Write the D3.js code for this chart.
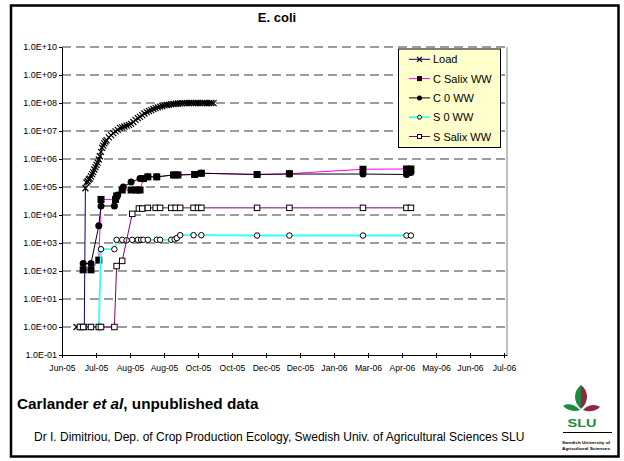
<!DOCTYPE html>
<html><head><meta charset="utf-8">
<script src="https://cdn.jsdelivr.net/npm/d3@7"></script>
<style>body{margin:0;background:#fff}svg{display:block;font-family:"Liberation Sans",Arial,sans-serif}</style>
</head><body><svg id="c" width="624" height="461"></svg>
<script>
// day of study: 0 = 1 Jun 2005
const seriesNames = ["Load", "C Salix WW", "C 0 WW", "S 0 WW", "S Salix WW"];

const loadDays = [13,20,21,22,23,24,25,26,27,28,29,30,31,32,33,34,35,36,37,38,39,40,42,44,46,48,50,52,54,56,58,60,62,64,66,68,70,72,74,76,78,80,82,84,86,88,90,92,94,96,98,100,102,104,106,108,110,112,114,116,118,120,122,124,126,128,130,132,134,136];
const loadValues = [1,1,9.0e4,1.45e5,1.6e5,1.85e5,2.0e5,2.4e5,2.9e5,3.4e5,4.2e5,5.1e5,6.2e5,7.4e5,9.6e5,1.25e6,1.8e6,2.5e6,3.0e6,3.6e6,4.2e6,4.7e6,5.9e6,7.1e6,8.4e6,9.7e6,1.1e7,1.3e7,1.35e7,1.45e7,1.55e7,1.65e7,1.8e7,2.1e7,2.5e7,2.9e7,3.2e7,3.7e7,4.2e7,4.7e7,5.2e7,5.6e7,6.1e7,6.6e7,7.0e7,7.4e7,7.8e7,8.2e7,8.5e7,8.7e7,9.0e7,9.2e7,9.4e7,9.6e7,9.7e7,9.8e7,9.9e7,9.9e7,1.0e8,1.0e8,9.9e7,1.0e8,1.0e8,9.9e7,1.0e8,1.0e8,9.8e7,9.9e7,1.0e8,9.9e7];

const cSalixDays = [19,26,33,35,48,49,54,62,67,70,73,77,85,100,104,119,125,175,204,270,309,313];
const cSalixValues = [110,110,245,3.6e4,3.6e4,4.8e4,7.8e4,7.8e4,7.8e4,7.8e4,2.0e5,2.3e5,2.3e5,2.7e5,2.7e5,2.8e5,3.1e5,2.8e5,3.0e5,4.3e5,4.4e5,4.4e5];

const c0Days = [19,26,33,35,47,48,50,55,62,70,77,85,100,104,119,125,175,204,270,309,313];
const c0Values = [185,185,4.1e3,2.1e4,2.1e4,3.5e4,5.2e4,1.0e5,1.5e5,2.0e5,2.3e5,2.3e5,2.7e5,2.7e5,2.8e5,3.1e5,2.8e5,2.9e5,2.9e5,2.8e5,3.3e5];

const s0Days = [16,19,26,33,35,47,49,54,58,63,68,71,73,77,85,88,98,101,103,106,118,125,175,204,270,309,313];
const s0Values = [1,1,1,1,600,600,1300,1300,1250,1300,1300,1300,1300,1300,1300,1300,1300,1350,1500,1900,1900,1900,1850,1850,1850,1850,1850];

const sSalixDays = [16,19,26,33,35,47,49,54,63,69,72,77,84,88,98,102,106,118,122,125,175,204,270,309,313];
const sSalixValues = [1,1,1,1,1,1,150,230,1.1e4,1.7e4,1.7e4,1.8e4,1.8e4,1.8e4,1.8e4,1.8e4,1.8e4,1.8e4,1.8e4,1.8e4,1.8e4,1.8e4,1.8e4,1.8e4,1.8e4];

const xTickDays = [0,30.5,61,91.5,122,152.5,183,213.5,244,274.5,305,335.5,366,396.5];
const xTickLabels = ["Jun-05","Jul-05","Aug-05","Aug-05","Oct-05","Oct-05","Dec-05","Dec-05","Jan-06","Mar-06","Apr-06","May-06","Jun-06","Jul-06"];
const yTickValues = [1e-1,1e0,1e1,1e2,1e3,1e4,1e5,1e6,1e7,1e8,1e9,1e10];
const yTickLabels = ["1.0E-01","1.0E+00","1.0E+01","1.0E+02","1.0E+03","1.0E+04","1.0E+05","1.0E+06","1.0E+07","1.0E+08","1.0E+09","1.0E+10"];

const zip = (a, b) => a.map((d, i) => [d, b[i]]);
const series = [
  {name: seriesNames[0], data: zip(loadDays, loadValues), color: "#000080", marker: "x", lw: 1, size: 6},
  {name: seriesNames[1], data: zip(cSalixDays, cSalixValues), color: "#FF00FF", marker: "fsquare", lw: 1, size: 7},
  {name: seriesNames[2], data: zip(c0Days, c0Values), color: "#000000", marker: "fcircle", lw: 1, size: 7},
  {name: seriesNames[3], data: zip(s0Days, s0Values), color: "#33FFFF", marker: "ocircle", lw: 1.8, size: 6.5},
  {name: seriesNames[4], data: zip(sSalixDays, sSalixValues), color: "#800080", marker: "osquare", lw: 1, size: 6.5}
];

const svg = d3.select("#c");
const x = d3.scaleLinear().domain([0, 399.2]).range([62, 507]);
const y = d3.scaleLog().domain([0.1, 1e10]).range([355, 47]);

// slide border
svg.append("rect").attr("x", 11).attr("y", 5.5).attr("width", 607.5).attr("height", 451)
  .attr("fill", "none").attr("stroke", "#000").attr("stroke-width", 2.5);

// title
svg.append("text").attr("x", 277).attr("y", 22).attr("text-anchor", "middle")
  .attr("font-size", 13).attr("font-weight", "bold").text("E. coli");

// gridlines
svg.append("g").selectAll("line").data(yTickValues.filter(v => v > 0.1)).join("line")
  .attr("x1", x.range()[0]).attr("x2", x.range()[1])
  .attr("y1", d => y(d)).attr("y2", d => y(d))
  .attr("stroke", "#3a3a3a").attr("stroke-width", 1.1).attr("stroke-dasharray", "9,5");

// right border of plot
svg.append("line").attr("x1", 507).attr("x2", 507).attr("y1", 47).attr("y2", 355)
  .attr("stroke", "#808080").attr("stroke-width", 1);

// axes
const gx = svg.append("g").attr("transform", "translate(0,355)")
  .call(d3.axisBottom(x).tickValues(xTickDays).tickFormat((d, i) => xTickLabels[i])
    .tickSizeInner(3).tickSizeOuter(0).tickPadding(7));
gx.selectAll(".tick line").attr("y1", -2).attr("y2", 3);
gx.selectAll("text").attr("font-size", 8.6).attr("font-family", "Liberation Sans, Arial, sans-serif").attr("fill", "#000");
gx.select(".domain").attr("stroke", "#000");

const gy = svg.append("g").attr("transform", "translate(62,0)")
  .call(d3.axisLeft(y).tickValues(yTickValues).tickFormat((d, i) => yTickLabels[i])
    .tickSizeInner(3).tickSizeOuter(0).tickPadding(2));
gy.selectAll("text").attr("font-size", 9).attr("font-family", "Liberation Sans, Arial, sans-serif").attr("fill", "#000");
gy.select(".domain").attr("stroke", "#000");

// marker drawing
function drawMarker(sel, type, size) {
  const h = size / 2;
  if (type === "x") {
    sel.append("path").attr("d", `M${-h},${-h}L${h},${h}M${-h},${h}L${h},${-h}`)
      .attr("stroke", "#000").attr("stroke-width", 1.2).attr("fill", "none");
  } else if (type === "fsquare") {
    sel.append("rect").attr("x", -h).attr("y", -h).attr("width", size).attr("height", size).attr("fill", "#000");
  } else if (type === "osquare") {
    sel.append("rect").attr("x", -h + 0.5).attr("y", -h + 0.5).attr("width", size - 1).attr("height", size - 1)
      .attr("fill", "#fff").attr("stroke", "#000").attr("stroke-width", 1);
  } else if (type === "fcircle") {
    sel.append("circle").attr("r", h).attr("fill", "#000");
  } else if (type === "ocircle") {
    sel.append("circle").attr("r", h - 0.5).attr("fill", "#fff").attr("stroke", "#000").attr("stroke-width", 1);
  }
}

const line = d3.line().x(d => x(d[0])).y(d => y(d[1]));
series.forEach(s => {
  const g = svg.append("g");
  g.append("path").datum(s.data).attr("d", line).attr("fill", "none")
    .attr("stroke", s.color).attr("stroke-width", s.lw);
  g.selectAll("g.m").data(s.data).join("g").attr("class", "m")
    .attr("transform", d => `translate(${x(d[0])},${y(d[1])})`)
    .each(function () { drawMarker(d3.select(this), s.marker, s.size); });
});

// legend
const lg = svg.append("g");
lg.append("rect").attr("x", 398.5).attr("y", 49).attr("width", 102).attr("height", 98.5)
  .attr("fill", "#FFFFCC").attr("stroke", "#000").attr("stroke-width", 1);
series.forEach((s, i) => {
  const yy = 59.3 + i * 19.3;
  const row = lg.append("g").attr("transform", `translate(0,${yy})`);
  row.append("line").attr("x1", 409).attr("x2", 430).attr("y1", 0).attr("y2", 0)
    .attr("stroke", s.color).attr("stroke-width", s.lw);
  const m = row.append("g").attr("transform", "translate(419.5,0)");
  drawMarker(m, s.marker, 5);
  row.append("text").attr("x", 433).attr("y", 4).attr("font-size", 11).text(s.name);
});

// footer text
const ft = svg.append("text").attr("x", 17).attr("y", 409).attr("font-size", 15.3).attr("font-weight", "bold");
ft.append("tspan").text("Carlander ");
ft.append("tspan").attr("font-style", "italic").text("et al");
ft.append("tspan").text(", unpublished data");

svg.append("text").attr("x", 34).attr("y", 441).attr("font-size", 12)
  .text("Dr I. Dimitriou, Dep. of Crop Production Ecology, Swedish Univ. of Agricultural Sciences SLU");

// SLU logo
const logo = svg.append("g").attr("transform", "translate(581,385)");
const green = "#1e8a3e", maroon = "#8e2a40";
logo.append("path").attr("d", "M0,0 C-8,6 -8,17 0,24 Z").attr("fill", green);
logo.append("path").attr("d", "M0,0 C8,6 8,17 0,24 Z").attr("fill", maroon);
logo.append("path").attr("d", "M-1,25 C-6,19 -14,18 -18,21 C-13,26 -5,27 -1,25 Z").attr("fill", green);
logo.append("path").attr("d", "M2,25 C7,19 15,19 19,22 C14,27 7,27 2,25 Z").attr("fill", maroon);
logo.append("text").attr("x", 1).attr("y", 42).attr("text-anchor", "middle")
  .attr("font-size", 11).attr("font-weight", "bold").attr("fill", green)
  .attr("textLength", 29).attr("lengthAdjust", "spacingAndGlyphs").text("SLU");
svg.append("line").attr("x1", 563).attr("x2", 612).attr("y1", 432.5).attr("y2", 432.5)
  .attr("stroke", "#000").attr("stroke-width", 1);
svg.append("text").attr("x", 562).attr("y", 443.5).attr("font-size", 4.2).attr("font-weight", "bold")
  .attr("textLength", 48).attr("lengthAdjust", "spacingAndGlyphs").text("Swedish University of");
svg.append("text").attr("x", 562).attr("y", 450).attr("font-size", 4.2).attr("font-weight", "bold")
  .attr("textLength", 48).attr("lengthAdjust", "spacingAndGlyphs").text("Agricultural Sciences");
</script></body></html>
